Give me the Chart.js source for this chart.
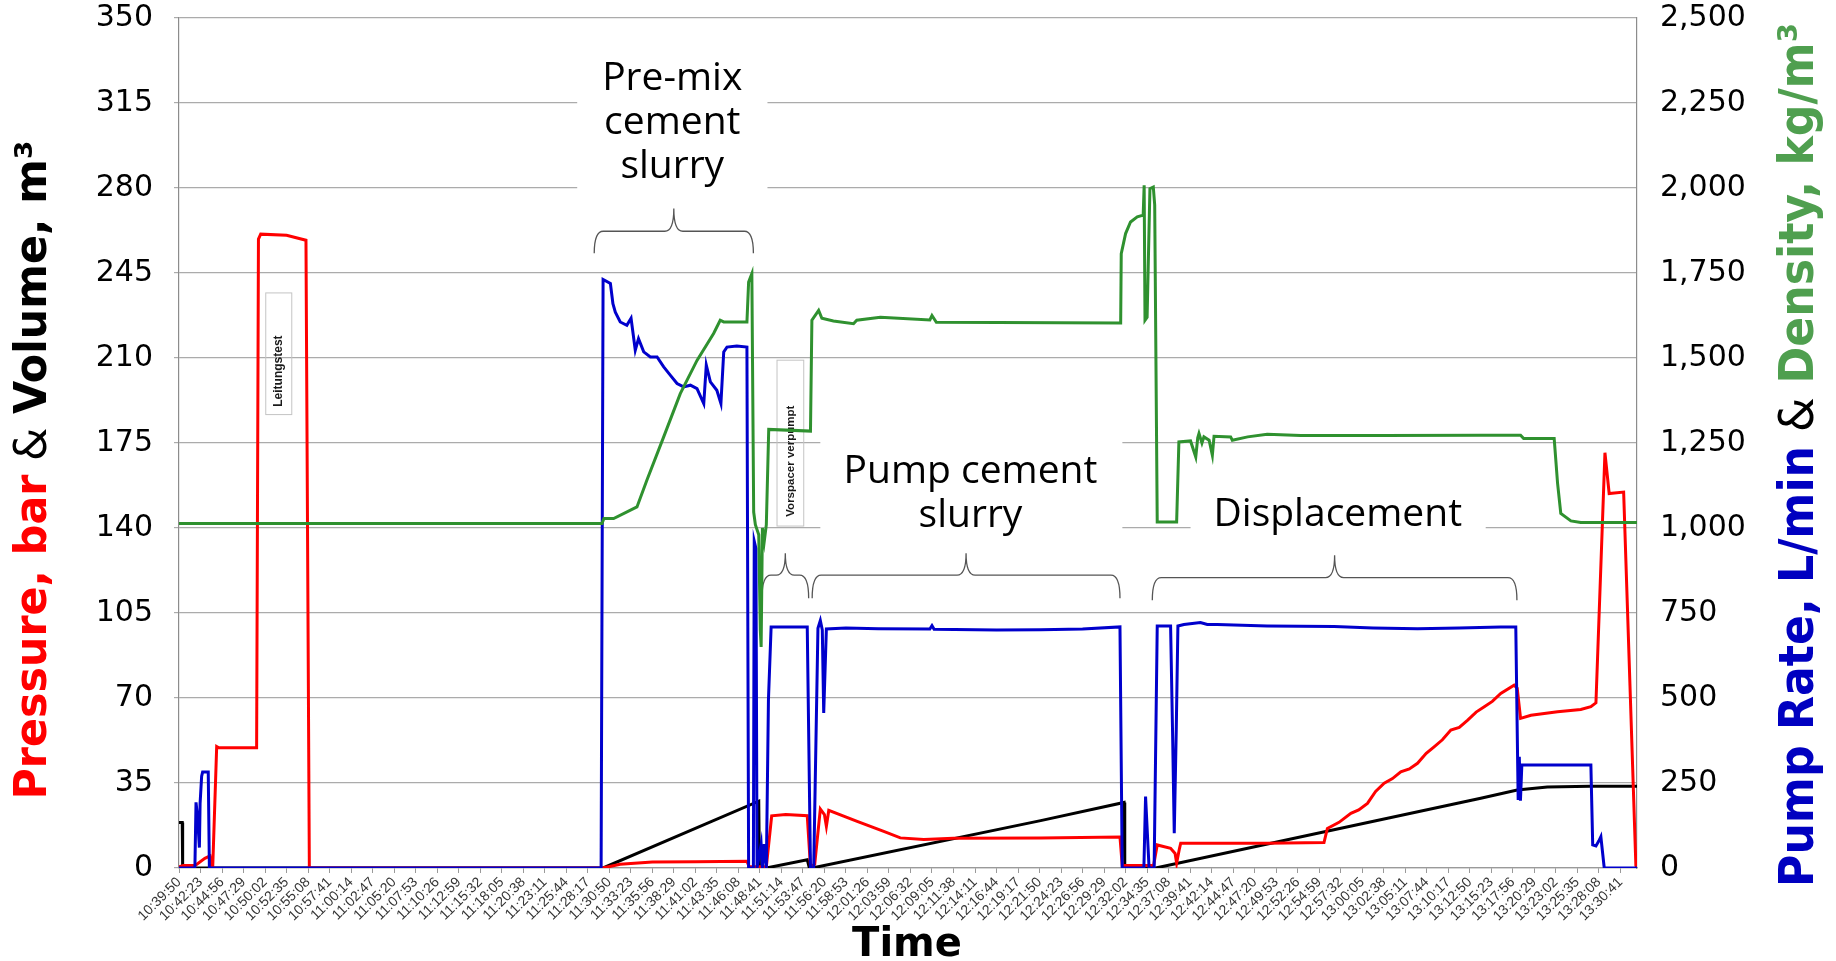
<!DOCTYPE html>
<html lang="en">
<head>
    <meta charset="UTF-8">
    <title>Cementation job</title>
    <style>
        body { margin: 0; background: #fff; }
        #chart-container { width: 1836px; height: 961px; }
    </style>
</head>
<body>
    <div id="chart-container">
        <canvas id="job-chart" width="1836" height="961"></canvas>
    </div>

    <script src="https://cdn.jsdelivr.net/npm/chart.js"></script>

    <script>
        // x axis labels, one every 2:33
        const timeLabels = [
            '10:39:50', '10:42:23', '10:44:56', '10:47:29', '10:50:02', '10:52:35', '10:55:08', '10:57:41',
            '11:00:14', '11:02:47', '11:05:20', '11:07:53', '11:10:26', '11:12:59', '11:15:32', '11:18:05',
            '11:20:38', '11:23:11', '11:25:44', '11:28:17', '11:30:50', '11:33:23', '11:35:56', '11:38:29',
            '11:41:02', '11:43:35', '11:46:08', '11:48:41', '11:51:14', '11:53:47', '11:56:20', '11:58:53',
            '12:01:26', '12:03:59', '12:06:32', '12:09:05', '12:11:38', '12:14:11', '12:16:44', '12:19:17',
            '12:21:50', '12:24:23', '12:26:56', '12:29:29', '12:32:02', '12:34:35', '12:37:08', '12:39:41',
            '12:42:14', '12:44:47', '12:47:20', '12:49:53', '12:52:26', '12:54:59', '12:57:32', '13:00:05',
            '13:02:38', '13:05:11', '13:07:44', '13:10:17', '13:12:50', '13:15:23', '13:17:56', '13:20:29',
            '13:23:02', '13:25:35', '13:28:08', '13:30:41'
        ];
        const timeStart = '10:39:50';
        const timeEnd = '13:32:39';

        // Pressure, bar (left axis)
        const pressureTime = ['10:39:50', '10:40:21', '10:41:37', '10:41:55', '10:42:54', '10:43:30', '10:43:43', '10:43:50', '10:44:18', '10:44:33',
            '10:49:02', '10:49:15', '10:49:31', '10:52:35', '10:54:53', '10:55:17', '11:30:04', '11:32:07', '11:35:56', '11:41:02',
            '11:47:09', '11:47:25', '11:49:27', '11:50:05', '11:51:45', '11:54:18', '11:54:41', '11:55:11', '11:55:51', '11:56:20',
            '11:56:34', '11:56:51', '12:00:13', '12:03:22', '12:05:20', '12:08:07', '12:11:38', '12:21:58', '12:31:22', '12:31:38',
            '12:35:21', '12:35:47', '12:37:22', '12:37:54', '12:38:05', '12:38:25', '12:38:34', '12:48:49', '12:55:33', '12:55:57',
            '12:57:20', '12:58:44', '12:59:40', '13:00:42', '13:01:40', '13:02:41', '13:03:40', '13:04:39', '13:05:40', '13:06:38',
            '13:07:40', '13:08:36', '13:09:35', '13:10:35', '13:11:35', '13:12:35', '13:13:35', '13:14:33', '13:15:30', '13:16:30',
            '13:18:05', '13:18:27', '13:18:51', '13:20:05', '13:23:14', '13:25:59', '13:27:11', '13:27:47', '13:28:51', '13:29:21',
            '13:31:04', '13:32:31', '13:32:39'];
        const pressureBar = [0.5, 1, 1, 1.5, 4, 5, 0.5, 0.5, 50, 49.5,
            49.5, 259, 261, 260.5, 258.5, 0, 0, 1.5, 2.5, 2.6,
            2.8, 0.5, 0.5, 21.5, 22, 21.5, 0.5, 1.5, 24.3, 22,
            17.2, 23.7, 19.2, 15.1, 12.4, 11.7, 12.3, 12.4, 12.8, 1,
            1, 9.5, 8.1, 6, 2, 8, 10.2, 10.2, 10.5, 16.3,
            18.8, 22.5, 23.9, 26.6, 31.5, 34.9, 36.8, 39.6, 40.8, 43.1,
            47.2, 49.9, 52.8, 56.8, 57.9, 60.9, 64.2, 66.4, 68.6, 71.9,
            75.3, 74, 61.6, 62.9, 64.3, 65.3, 66.4, 68, 171, 154.2,
            154.8, 1, 0.5];

        // Pump rate, L/min (right axis)
        const rateTime = ['10:39:50', '10:41:43', '10:41:51', '10:42:02', '10:42:15', '10:42:20', '10:42:31', '10:42:38', '10:43:18', '10:43:26',
            '11:29:52', '11:30:06', '11:30:58', '11:31:16', '11:31:33', '11:32:08', '11:32:55', '11:33:25', '11:33:55', '11:34:18',
            '11:34:55', '11:35:42', '11:36:30', '11:37:17', '11:38:05', '11:38:52', '11:39:39', '11:40:27', '11:41:14', '11:42:02',
            '11:42:20', '11:42:49', '11:43:35', '11:44:04', '11:44:24', '11:44:47', '11:45:57', '11:47:09', '11:47:21', '11:47:55',
            '11:48:01', '11:48:13', '11:48:21', '11:48:50', '11:48:59', '11:49:12', '11:49:27', '11:49:42', '11:50:01', '11:54:18',
            '11:54:41', '11:55:04', '11:55:34', '11:55:51', '11:56:05', '11:56:15', '11:56:34', '11:58:53', '12:02:43', '12:08:50',
            '12:09:05', '12:09:20', '12:16:44', '12:21:58', '12:26:56', '12:31:22', '12:31:38', '12:34:12', '12:34:24', '12:34:49',
            '12:35:25', '12:35:47', '12:37:22', '12:37:36', '12:37:48', '12:38:02', '12:38:14', '12:38:57', '12:40:54', '12:41:43',
            '12:42:54', '12:48:49', '12:56:45', '13:01:22', '13:06:38', '13:11:34', '13:16:30', '13:18:17', '13:18:34', '13:18:42',
            '13:18:50', '13:19:00', '13:27:11', '13:27:24', '13:27:47', '13:28:08', '13:28:22', '13:28:46', '13:32:39'];
        const rateLpm = [0, 0, 193, 150, 60, 190, 270, 282, 282, 0,
            0, 1731, 1719, 1660, 1635, 1606, 1596, 1617, 1523, 1557,
            1518, 1503, 1503, 1474, 1449, 1425, 1415, 1420, 1410, 1366,
            1479, 1430, 1405, 1366, 1518, 1532, 1535, 1532, 0, 0,
            961, 940, 0, 70, 0, 70, 0, 495, 709, 709,
            0, 0, 705, 728, 700, 456, 703, 706, 704, 703,
            713, 702, 700, 701, 703, 709, 0, 0, 210, 0,
            0, 712, 712, 400, 102, 400, 712, 716, 722, 716,
            716, 712, 710, 706, 704, 706, 709, 709, 200, 327,
            198, 303, 303, 68, 65, 80, 92, 0, 0];

        // Density, kg/m3 (right axis)
        const densityTime = ['10:39:50', '11:29:58', '11:30:12', '11:31:21', '11:34:07', '11:35:18', '11:37:17', '11:39:15', '11:41:14', '11:43:12',
            '11:43:59', '11:44:24', '11:47:09', '11:47:21', '11:47:44', '11:47:57', '11:48:09', '11:48:33', '11:48:44', '11:48:50',
            '11:48:59', '11:49:12', '11:49:27', '11:49:44', '11:54:41', '11:54:51', '11:55:39', '11:56:02', '11:57:24', '11:59:47',
            '12:00:10', '12:02:58', '12:08:50', '12:09:05', '12:09:36', '12:31:27', '12:31:31', '12:32:02', '12:32:37', '12:33:25',
            '12:34:07', '12:34:14', '12:34:20', '12:34:35', '12:34:55', '12:35:19', '12:35:29', '12:35:47', '12:38:05', '12:38:21',
            '12:39:44', '12:40:21', '12:40:35', '12:40:44', '12:41:05', '12:41:19', '12:41:56', '12:42:19', '12:42:31', '12:44:29',
            '12:44:41', '12:46:30', '12:48:49', '12:52:47', '13:02:38', '13:14:08', '13:18:51', '13:19:13', '13:22:50', '13:23:14',
            '13:23:37', '13:24:49', '13:25:59', '13:32:39'];
        const densityKgm3 = [1013, 1013, 1028, 1028, 1062, 1141, 1268, 1395, 1493, 1572,
            1611, 1606, 1606, 1723, 1748, 1047, 1010, 980, 700, 650,
            1000, 960, 1010, 1290, 1285, 1611, 1640, 1617, 1609, 1601,
            1611, 1620, 1612, 1625, 1605, 1603, 1807, 1866, 1900, 1915,
            1920, 2008, 1611, 1620, 1998, 2003, 1950, 1018, 1018, 1253,
            1256, 1209, 1265, 1278, 1250, 1268, 1258, 1214, 1270, 1268,
            1258, 1268, 1276, 1272, 1272, 1273, 1273, 1263, 1263, 1132,
            1043, 1021, 1016, 1016];

        // Volume, m3 (left axis)
        const volumeTime = ['10:39:50', '10:40:13', '10:40:16', '11:30:06', '11:48:33', '11:48:38', '11:49:27', '11:54:18', '11:54:33', '11:54:53',
            '12:21:58', '12:31:51', '12:31:56', '12:35:36', '13:14:08', '13:18:27', '13:22:01', '13:27:07', '13:32:39'];
        const volumeM3 = [18.7, 18.7, 0, 0, 27.5, 0, 0, 3.4, 0, 0,
            19.5, 27.0, 0, 0, 28.7, 32.1, 33.4, 33.7, 33.7];

        // phase captions with the white area behind them (values on the left axis)
        const phaseNotes = [
            { lines: ['Pre-mix', 'cement', 'slurry'], at: '11:38:18', mid: 306.7, box: { from: '11:27:02', to: '11:49:35', top: 338, bottom: 276 } },
            { lines: ['Pump cement', 'slurry'], at: '12:13:39', mid: 154.2, box: { from: '11:55:51', to: '12:31:39', top: 180.3, bottom: 132.9 } },
            { lines: ['Displacement'], at: '12:57:11', mid: 145.3, box: { from: '12:39:44', to: '13:14:43', top: 163.8, bottom: 132.9 } }
        ];
        const braces = [
            { from: '11:29:03', to: '11:47:55', end: 253.1, line: 262.2, tip: 271.6 },
            { from: '11:48:56', to: '11:54:28', end: 111.1, line: 120.6, tip: 129.6 },
            { from: '11:54:53', to: '12:31:22', end: 111.1, line: 120.6, tip: 129.6 },
            { from: '12:35:12', to: '13:18:25', end: 110.3, line: 119.6, tip: 128.8 }
        ];
        const sideNotes = [
            { text: 'Leitungstest', from: '10:50:07', to: '10:53:12', top: 236.8, bottom: 186.7, mid: 204.6, size: 12 },
            { text: 'Vorspacer verpumpt', from: '11:50:43', to: '11:53:53', top: 209.1, bottom: 140.8, mid: 167.5, size: 11.5 }
        ];

        function toSec(t) {
            const p = t.split(':').map(Number);
            return p[0] * 3600 + p[1] * 60 + p[2];
        }

        function toPoints(times, values) {
            return times.map((t, i) => ({ x: toSec(t), y: values[i] }));
        }

        // captions, braces and small boxes are drawn over the grid, under the lines
        const notesPlugin = {
            id: 'notes',
            beforeDatasetsDraw(chart) {
                const ctx = chart.ctx;
                const px = t => chart.scales.x.getPixelForValue(toSec(t));
                const py = v => chart.scales.y.getPixelForValue(v);
                ctx.save();

                phaseNotes.forEach(n => {
                    const b = n.box;
                    ctx.fillStyle = '#ffffff';
                    ctx.fillRect(px(b.from), py(b.top), px(b.to) - px(b.from), py(b.bottom) - py(b.top));
                    ctx.fillStyle = '#000';
                    ctx.font = '39px "Open Sans"';
                    ctx.textAlign = 'center';
                    ctx.textBaseline = 'middle';
                    const y0 = py(n.mid) - (n.lines.length - 1) * 44 / 2;
                    n.lines.forEach((l, i) => ctx.fillText(l, px(n.at), y0 + i * 44));
                });

                ctx.strokeStyle = '#555';
                ctx.lineWidth = 1.3;
                braces.forEach(b => {
                    const x1 = px(b.from), x2 = px(b.to), xm = (x1 + x2) / 2;
                    const yE = py(b.end), yL = py(b.line), yT = py(b.tip);
                    const r = Math.min(9, (x2 - x1) / 4);
                    ctx.beginPath();
                    ctx.moveTo(x1, yE);
                    ctx.quadraticCurveTo(x1, yL, x1 + r, yL);
                    ctx.lineTo(xm - r, yL);
                    ctx.quadraticCurveTo(xm, yL, xm, yT);
                    ctx.quadraticCurveTo(xm, yL, xm + r, yL);
                    ctx.lineTo(x2 - r, yL);
                    ctx.quadraticCurveTo(x2, yL, x2, yE);
                    ctx.stroke();
                });

                sideNotes.forEach(s => {
                    const x1 = px(s.from), x2 = px(s.to);
                    ctx.strokeStyle = '#c4c4c4';
                    ctx.lineWidth = 1;
                    ctx.strokeRect(x1, py(s.top), x2 - x1, py(s.bottom) - py(s.top));
                    ctx.save();
                    ctx.translate((x1 + x2) / 2, py(s.mid));
                    ctx.rotate(-Math.PI / 2);
                    ctx.font = 'bold ' + s.size + 'px "Liberation Sans"';
                    ctx.fillStyle = '#1a1a1a';
                    ctx.textAlign = 'center';
                    ctx.textBaseline = 'middle';
                    ctx.fillText(s.text, 0, 0);
                    ctx.restore();
                });
                ctx.restore();
            }
        };

        // rotated, multi coloured axis titles stretched to a given length
        function drawParts(ctx, parts, cx, cy, length) {
            let total = 0;
            parts.forEach(p => { ctx.font = p.font; p.w = ctx.measureText(p.text).width; total += p.w; });
            ctx.save();
            ctx.translate(cx, cy);
            ctx.rotate(-Math.PI / 2);
            ctx.scale(length / total, 1);
            ctx.textAlign = 'left';
            ctx.textBaseline = 'middle';
            let x = -total / 2;
            parts.forEach(p => {
                ctx.font = p.font;
                ctx.fillStyle = p.color;
                ctx.fillText(p.text, x, 0);
                x += p.w;
            });
            ctx.restore();
        }

        const titlesPlugin = {
            id: 'titles',
            afterDraw(chart) {
                const ctx = chart.ctx;
                drawParts(ctx, [
                    { text: 'Pressure, bar', font: 'bold 44px "DejaVu Sans"', color: '#ff0000' },
                    { text: ' & ', font: '44px "DejaVu Sans"', color: '#000' },
                    { text: 'Volume, m³', font: 'bold 44px "DejaVu Sans"', color: '#000' }
                ], 35, 470, 659);
                drawParts(ctx, [
                    { text: 'Pump Rate, L/min', font: 'bold 48px "DejaVu Sans Condensed", "DejaVu Sans"', color: '#0000c0' },
                    { text: ' & ', font: '48px "DejaVu Sans Condensed", "DejaVu Sans"', color: '#000' },
                    { text: 'Density, kg/m³', font: 'bold 48px "DejaVu Sans Condensed", "DejaVu Sans"', color: '#4f9f4f' }
                ], 1801, 455, 864);
                ctx.save();
                ctx.font = 'bold 40px "DejaVu Sans"';
                ctx.fillStyle = '#000';
                ctx.textAlign = 'center';
                ctx.textBaseline = 'middle';
                ctx.fillText('Time', 907, 946);
                ctx.restore();
            }
        };

        const tickFont = { family: 'DejaVu Sans', size: 30 };

        // fixed axis boxes so the plot area matches the original frame
        function fitSide(width) {
            return s => {
                s.width = width;
                s.paddingTop = 18;
                s.paddingBottom = 18;
            };
        }

        new Chart(document.getElementById('job-chart').getContext('2d'), {
            type: 'line',
            data: {
                datasets: [
                    { data: toPoints(densityTime, densityKgm3), borderColor: '#2f912f', yAxisID: 'y1' },
                    { data: toPoints(rateTime, rateLpm), borderColor: '#0000cc', yAxisID: 'y1' },
                    { data: toPoints(pressureTime, pressureBar), borderColor: '#ff0000', yAxisID: 'y' },
                    { data: toPoints(volumeTime, volumeM3), borderColor: '#000000', yAxisID: 'y' }
                ]
            },
            options: {
                responsive: false,
                animation: false,
                layout: { padding: 0 },
                elements: {
                    point: { radius: 0 },
                    line: { tension: 0, borderWidth: 3, fill: false }
                },
                plugins: {
                    legend: { display: false },
                    tooltip: { enabled: false }
                },
                scales: {
                    x: {
                        type: 'linear',
                        min: toSec(timeStart),
                        max: toSec(timeEnd),
                        afterFit: s => { s.height = 93; },
                        afterBuildTicks: s => { s.ticks = timeLabels.map(l => ({ value: toSec(l) })); },
                        ticks: {
                            autoSkip: false,
                            minRotation: 45,
                            maxRotation: 45,
                            padding: 1,
                            color: '#333333',
                            font: { family: 'Liberation Sans', size: 14 },
                            callback: (v, i) => timeLabels[i]
                        },
                        grid: { drawOnChartArea: false, drawTicks: true, tickLength: 5, color: '#9a9a9a' },
                        border: { display: true, color: '#9a9a9a', width: 1.2 }
                    },
                    y: {
                        position: 'left',
                        min: 0,
                        max: 350,
                        afterFit: fitSide(179),
                        ticks: { stepSize: 35, color: '#000', font: tickFont, padding: 21 },
                        grid: { color: '#ababab', lineWidth: 1.2, tickLength: 5 },
                        border: { display: true, color: '#8c8c8c', width: 1.2 }
                    },
                    y1: {
                        position: 'right',
                        min: 0,
                        max: 2500,
                        afterFit: fitSide(199),
                        ticks: { stepSize: 250, color: '#000', font: tickFont, padding: 23, callback: v => v.toLocaleString('en-US') },
                        grid: { drawOnChartArea: false, drawTicks: false },
                        border: { display: true, color: '#8c8c8c', width: 1.2 }
                    }
                }
            },
            plugins: [notesPlugin, titlesPlugin]
        });
    </script>
</body>
</html>
